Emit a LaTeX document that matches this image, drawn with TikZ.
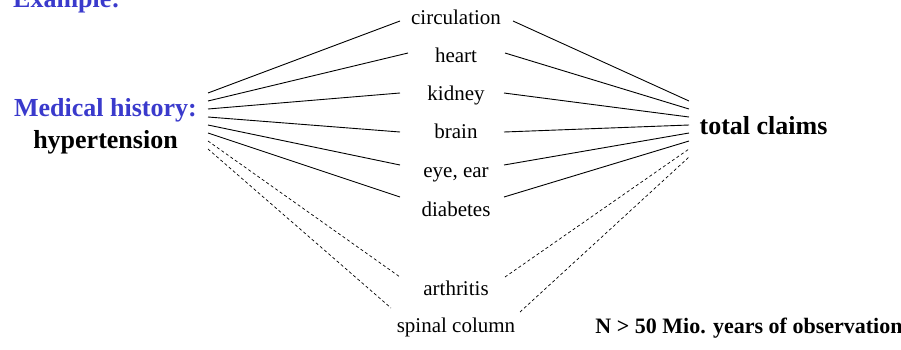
\documentclass[tikz,border=0pt]{standalone}
\usepackage{fontspec}
\setmainfont{Liberation Serif}
\definecolor{hblue}{RGB}{58,58,204}
\tikzset{
  big/.style={inner sep=0pt, font=\fontsize{26}{30}\selectfont\bfseries},
  lbl/.style={inner sep=0pt, anchor=base, font=\fontsize{21}{25}\selectfont},
  note/.style={inner sep=0pt, anchor=base, font=\fontsize{22}{26}\selectfont\bfseries},
  link/.style={line width=0.9pt},
  dlink/.style={line width=0.7pt, dash pattern=on 3pt off 2.5pt},
}
\begin{document}
\begin{tikzpicture}[x=1pt,y=-1pt]
\useasboundingbox (0,0) rectangle (901,349);
% hub texts
\node[big, text=hblue, anchor=base west] (ex) at (13,7) {Example:};
\node[big, text=hblue, anchor=base] (med) at (105.5,116) {Medical history:};
\node[big, anchor=base] (hyp) at (105.5,148) {hypertension};
\node[big, anchor=base] (tot) at (763.5,134) {total claims};
\node[note] (obs) at (749,333) {N > 50 Mio. years of observation};
% labels
\node[lbl] (circ) at (456,24) {circulation};
\node[lbl] (heart) at (456,62) {heart};
\node[lbl] (kid) at (456,100) {kidney};
\node[lbl] (brain) at (456,138.5) {brain};
\node[lbl] (eye) at (456,177) {eye, ear};
\node[lbl] (dia) at (456,216) {diabetes};
\node[lbl] (arth) at (456,295) {arthritis};
\node[lbl] (spin) at (456,332) {spinal column};
% hub fan points
\foreach \i/\y in {1/93,2/101,3/109,4/117,5/125,6/133,7/141,8/149}
  \coordinate (L\i) at (208,\y);
\foreach \i/\y in {1/101,2/109,3/117,4/125,5/133,6/141,7/149,8/157}
  \coordinate (R\i) at (689,\y);
% label end points
\coordinate (circW) at (400,21);  \coordinate (circE) at (513,21);
\coordinate (heartW) at (408,53); \coordinate (heartE) at (505,53);
\coordinate (kidW) at (400,93);   \coordinate (kidE) at (504,93);
\coordinate (brainW) at (400,132);\coordinate (brainE) at (504,132);
\coordinate (eyeW) at (400,165);  \coordinate (eyeE) at (504,165);
\coordinate (diaW) at (400,197);  \coordinate (diaE) at (504,197);
\coordinate (arthW) at (400,277); \coordinate (arthE) at (505,277);
\coordinate (spinW) at (391,308); \coordinate (spinE) at (520,312);
% connectors
\foreach \n/\i in {circ/1,heart/2,kid/3,brain/4,eye/5,dia/6}{
  \draw[link] (L\i) -- (\n W);
  \draw[link] (\n E) -- (R\i);
}
\foreach \n/\i in {arth/7,spin/8}{
  \draw[dlink] (L\i) -- (\n W);
  \draw[dlink] (\n E) -- (R\i);
}
\end{tikzpicture}
\end{document}
